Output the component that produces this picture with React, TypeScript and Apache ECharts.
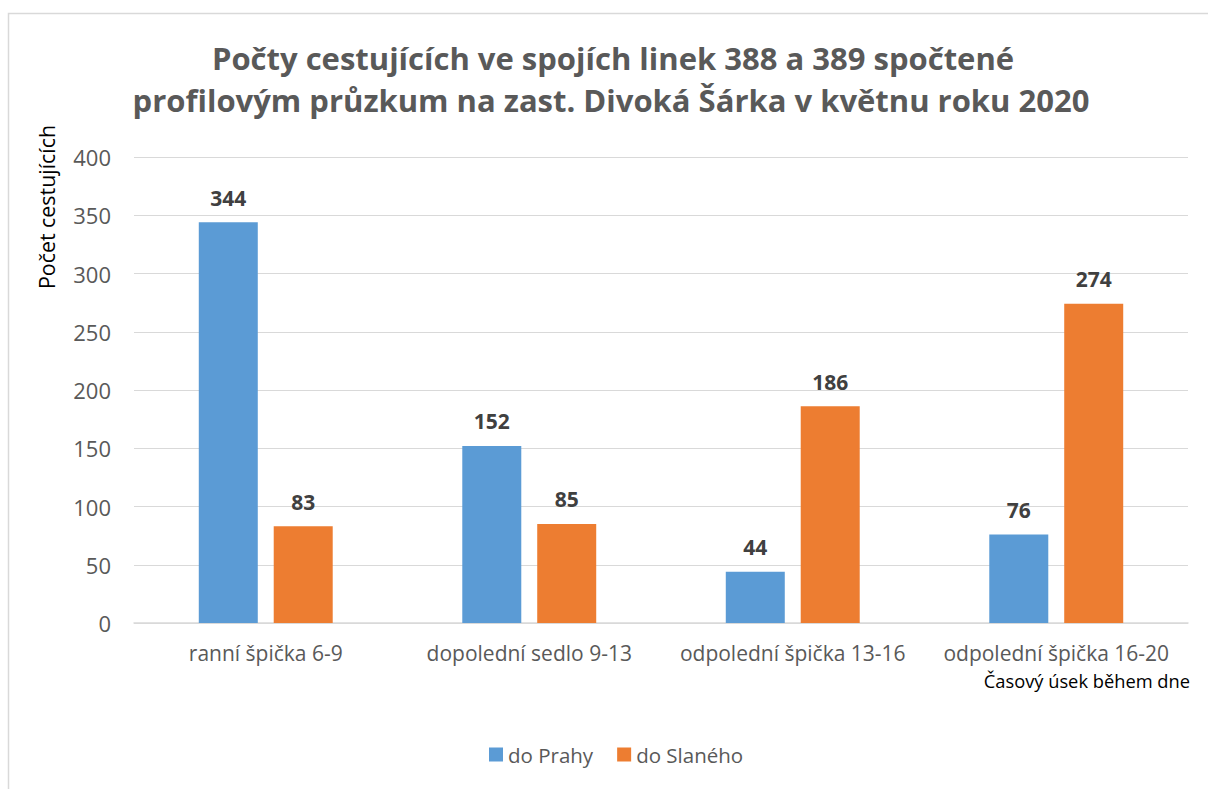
import React, { useEffect, useRef } from "react";
import * as echarts from "echarts";

const categories = [
  "ranní špička 6-9",
  "dopolední sedlo 9-13",
  "odpolední špička 13-16",
  "odpolední špička 16-20",
];
const doPrahy = [344, 152, 44, 76];
const doSlaneho = [83, 85, 186, 274];
const seriesNames = ["do Prahy", "do Slaného"];
const titleLines = [
  "Počty cestujících ve spojích linek 388 a 389 spočtené",
  "profilovým průzkum na zast. Divoká Šárka v květnu roku 2020",
];
const yAxisTitle = "Počet cestujících";
const xAxisTitle = "Časový úsek během dne";

const FONT = "'Open Sans', 'Noto Sans', sans-serif";
const GREY = "#595959";

export default function App() {
  const ref = useRef<HTMLDivElement>(null);

  useEffect(() => {
    if (!ref.current) return;
    const chart = echarts.init(ref.current, undefined, { renderer: "svg" });
    const label = {
      show: true,
      position: "top" as const,
      distance: 14,
      color: "#404040",
      fontFamily: FONT,
      fontWeight: "bold" as const,
      fontSize: 21,
    };
    chart.setOption({
      animation: false,
      backgroundColor: "#ffffff",
      textStyle: { fontFamily: FONT },
      legend: {
        bottom: 19,
        left: 484,
        itemWidth: 14,
        itemHeight: 14,
        itemGap: 24,
        icon: "rect",
        textStyle: { fontFamily: FONT, fontSize: 20.5, color: GREY },
        data: seriesNames,
      },
      grid: { left: 134, right: 20, top: 157, bottom: 166, containLabel: false },
      xAxis: {
        type: "category",
        data: categories,
        axisLine: { lineStyle: { color: "#d9d9d9", width: 1.5 } },
        axisTick: { show: false },
        axisLabel: {
          color: GREY,
          fontSize: 21,
          fontFamily: FONT,
          margin: 19,
          interval: 0,
        },
      },
      yAxis: {
        type: "value",
        min: 0,
        max: 400,
        interval: 50,
        axisLine: { show: false },
        axisTick: { show: false },
        splitLine: { lineStyle: { color: "#d9d9d9", width: 1.2 } },
        axisLabel: { color: GREY, fontSize: 22, fontFamily: FONT, margin: 23 },
      },
      series: [
        {
          name: seriesNames[0],
          type: "bar",
          data: doPrahy,
          barWidth: 59,
          barGap: "27%",
          itemStyle: { color: "#5b9bd5" },
          label,
        },
        {
          name: seriesNames[1],
          type: "bar",
          data: doSlaneho,
          barWidth: 59,
          itemStyle: { color: "#ed7d31" },
          label,
        },
      ],
      graphic: [
        {
          type: "rect",
          shape: { x: 8.5, y: 13.5, width: 1220, height: 800 },
          style: { fill: "none", stroke: "#d9d9d9", lineWidth: 1.5 },
          silent: true,
          z: -1,
        },
        {
          type: "text",
          x: 613,
          y: 58,
          style: {
            text: titleLines[0],
            fontFamily: FONT,
            fontSize: 31,
            fontWeight: "bold",
            fill: GREY,
            align: "center",
            verticalAlign: "middle",
          },
        },
        {
          type: "text",
          x: 611,
          y: 100,
          style: {
            text: titleLines[1],
            fontFamily: FONT,
            fontSize: 31,
            fontWeight: "bold",
            fill: GREY,
            align: "center",
            verticalAlign: "middle",
          },
        },
        {
          type: "text",
          x: 46,
          y: 207,
          rotation: Math.PI / 2,
          style: {
            text: yAxisTitle,
            fontFamily: FONT,
            fontSize: 21.4,
            fill: "#000000",
            align: "center",
            verticalAlign: "middle",
          },
        },
        {
          type: "text",
          x: 1190,
          y: 680,
          style: {
            text: xAxisTitle,
            fontFamily: FONT,
            fontSize: 18.3,
            fill: "#000000",
            align: "right",
            verticalAlign: "middle",
          },
        },
      ],
    });
    return () => chart.dispose();
  }, []);

  return (
    <div
      ref={ref}
      style={{ position: "absolute", left: 0, top: 0, width: 1208, height: 789 }}
    />
  );
}
